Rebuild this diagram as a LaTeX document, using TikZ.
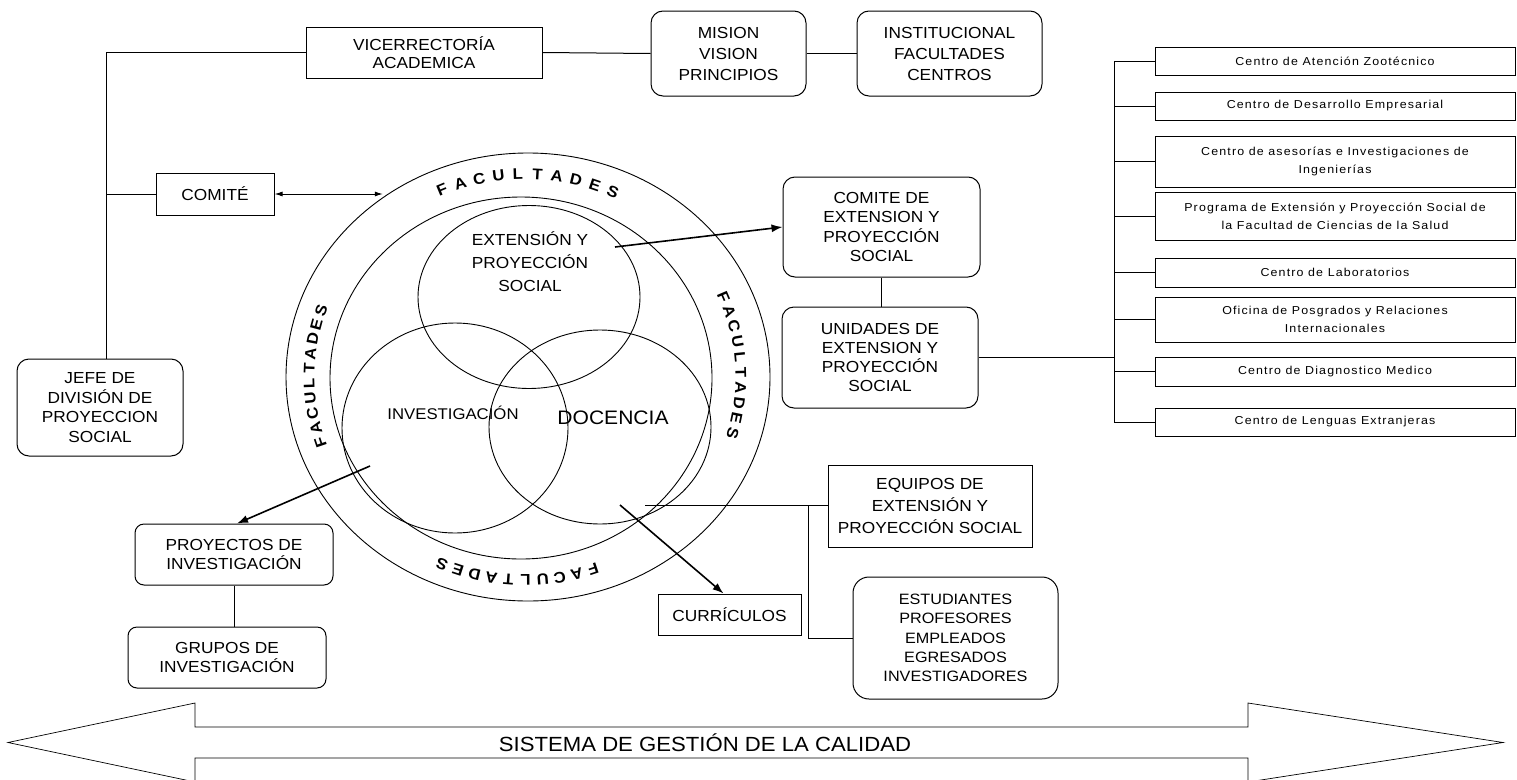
\documentclass[tikz,border=0pt]{standalone}
\usepackage{fontspec}
\setmainfont{Liberation Sans}[FakeStretch=1.08]
\newfontfamily\smallspaced{Liberation Sans}[LetterSpace=10,FakeStretch=1.08]
\usetikzlibrary{arrows.meta,shapes.geometric}
\newcommand\facword[3]{%
  \foreach \l [count=\i from 0] in {F,A,C,U,L,T,A,D,E,S}{%
    \pgfmathsetmacro\fang{#2-\i*#3}%
    \pgfmathsetmacro\frot{\fang-90}%
    \node[facl, rotate=\frot] (#1\i) at ({525+216*cos(\fang)},{377-203*sin(\fang)}) {\l};
  }}
\begin{document}
\begin{tikzpicture}[x=1pt,y=-1pt,
  sz/.style 2 args={minimum width=#1pt, minimum height=#2pt},
  lh/.style={font=\fontsize{16}{#1}\selectfont},
  box/.style={draw, line width=1pt, align=center, inner sep=0pt, lh=20},
  rbox/.style={box, rounded corners=12pt},
  cbox/.style={draw, line width=0.9pt, align=center, inner sep=0pt,
    minimum width=360pt, font=\smallspaced\fontsize{11.5}{18}\selectfont},
  ring/.style={draw, ellipse, line width=0.9pt, inner sep=0pt, outer sep=0pt},
  ctext/.style={align=center, inner sep=0pt},
  facl/.style={font=\bfseries\fontsize{15.5}{16}\selectfont, inner sep=0pt},
  conn/.style={line width=1pt},
  arr/.style={line width=1.6pt, -{Latex[length=11pt,width=8pt]}},
  darr/.style={line width=1pt, {Latex[length=8pt,width=5pt]}-{Latex[length=8pt,width=5pt]}},
  bigarrow/.style={line width=0.7pt}
]
\useasboundingbox (0,0) rectangle (1517,779);
\fill[white] (0,0) rectangle (1517,779);

% rings and circles
\node[ring, sz={484}{448}] (outer) at (528,377) {};
\node[ring, sz={382}{362}] (inner) at (521,378) {};
\node[ring, sz={222}{183}] (ext) at (529,297) {};
\node[ring, sz={226}{210}] (inv) at (455,428) {};
\node[ring, sz={222}{194}] (doc) at (600,427) {};

\node[ctext, lh=23] (exttext) at (530,262) {EXTENSIÓN Y\\PROYECCIÓN\\SOCIAL};
\node[ctext, font=\fontsize{15.5}{18}\selectfont] (invtext) at (453,413) {INVESTIGACIÓN};
\node[ctext, font=\fontsize{19.5}{22}\selectfont] (doctext) at (613,418) {DOCENCIA};

\facword{factop}{112.6}{5.18}
\facword{facleft}{198.7}{4.22}
\facword{facright}{23.2}{4.36}
\facword{facbot}{288.4}{4.56}

% boxes
\node[box, sz={236}{51}, lh=18.5] (vice) at (424,52.5) {VICERRECTORÍA\\ACADEMICA};
\node[rbox, sz={155}{85}, lh=21] (mision) at (728.5,53.5) {MISION\\VISION\\PRINCIPIOS};
\node[rbox, sz={185}{85}, lh=21] (inst) at (949.5,53.5) {INSTITUCIONAL\\FACULTADES\\CENTROS};
\node[box, sz={118}{42}] (comite) at (215,194) {COMITÉ};
\node[rbox, sz={166}{97}, lh=19.6] (jefe) at (100,407.5) {JEFE DE\\DIVISIÓN DE\\PROYECCION\\SOCIAL};
\node[rbox, sz={197}{100}, lh=19.3] (comext) at (881.5,227) {COMITE DE\\EXTENSION Y\\PROYECCIÓN\\SOCIAL};
\node[rbox, sz={196}{101}, lh=19.3] (unid) at (880,357.5) {UNIDADES DE\\EXTENSION Y\\PROYECCIÓN\\SOCIAL};
\node[rbox, rounded corners=9pt, sz={198}{61}, lh=19] (proy) at (234,554.5) {PROYECTOS DE\\INVESTIGACIÓN};
\node[rbox, rounded corners=9pt, sz={198}{61}, lh=19] (grupos) at (227,657.5) {GRUPOS DE\\INVESTIGACIÓN};
\node[box, sz={143}{41}] (curr) at (729.5,614.5) {CURRÍCULOS};
\node[box, sz={204}{82}, lh=22] (equipos) at (930,506) {EQUIPOS DE\\EXTENSIÓN Y\\PROYECCIÓN SOCIAL};
\node[rbox, rounded corners=16pt, sz={205}{122}, font=\fontsize{15}{19.3}\selectfont] (estud) at (955.5,638) {ESTUDIANTES\\PROFESORES\\EMPLEADOS\\EGRESADOS\\INVESTIGADORES};

% right column
\node[cbox, minimum height=28pt] (r1) at (1335,61) {Centro de Atención Zootécnico};
\node[cbox, minimum height=28pt] (r2) at (1335,106) {Centro de Desarrollo Empresarial};
\node[cbox, minimum height=51pt] (r3) at (1335,161.5) {Centro de asesorías e Investigaciones de\\Ingenierías};
\node[cbox, minimum height=48pt] (r4) at (1335,216) {Programa de Extensión y Proyección Social de\\la Facultad de Ciencias de la Salud};
\node[cbox, minimum height=29pt] (r5) at (1335,272.5) {Centro de Laboratorios};
\node[cbox, minimum height=45pt] (r6) at (1335,319.5) {Oficina de Posgrados y Relaciones\\Internacionales};
\node[cbox, minimum height=29pt] (r7) at (1335,371.5) {Centro de Diagnostico Medico};
\node[cbox, minimum height=28pt] (r8) at (1335,422) {Centro de Lenguas Extranjeras};

% connectors
\coordinate (trunk) at ([xshift=6pt]jefe.north);
\draw[conn] (vice.west) -| (trunk);
\draw[conn] (comite.west) -- (comite.west -| trunk);
\draw[darr] (comite.east) -- (comite.east -| outer.129);
\draw[conn] (vice.east) -- (mision.west);
\draw[conn] (mision.east) -- (inst.west);
\draw[conn] (comext.south) -- (comext.south |- unid.north);

\coordinate (rtrunk) at (1114,0);
\draw[conn] (unid.east) -- (unid.east -| rtrunk);
\draw[conn] (r1.west -| rtrunk) -- (r8.west -| rtrunk);
\foreach \r in {r1,r2,r3,r4,r5,r6,r7,r8}{\draw[conn] (\r.west) -- (\r.west -| rtrunk);}

\coordinate (extsrc) at (615,247);
\coordinate (invsrc) at (370,466);
\coordinate (docsrc) at (620,505);
\coordinate (eqsrc) at (645,505);
\coordinate (br) at (808,505);
\draw[arr] (extsrc) -- (comext.west);
\draw[arr] (invsrc) -- ([xshift=3pt]proy.north);
\draw[arr] (docsrc) -- ([xshift=-6pt]curr.north);
\draw[conn] (eqsrc) -- (eqsrc -| equipos.west);
\draw[conn] (br) |- (estud.west);
\draw[conn] (proy.south) -- (proy.south |- grupos.north);

% bottom double arrow
\draw[bigarrow] (8,742.5) -- (195,703) -- (195,727) -- (1248,727) -- (1248,703) -- (1503,742.5) -- (1248,782) -- (1248,758) -- (195,758) -- (195,782) -- cycle;
\node[ctext, font=\fontsize{20.5}{22}\selectfont] (sgc) at (705,742.5) {SISTEMA DE GESTIÓN DE LA CALIDAD};
\end{tikzpicture}
\end{document}
